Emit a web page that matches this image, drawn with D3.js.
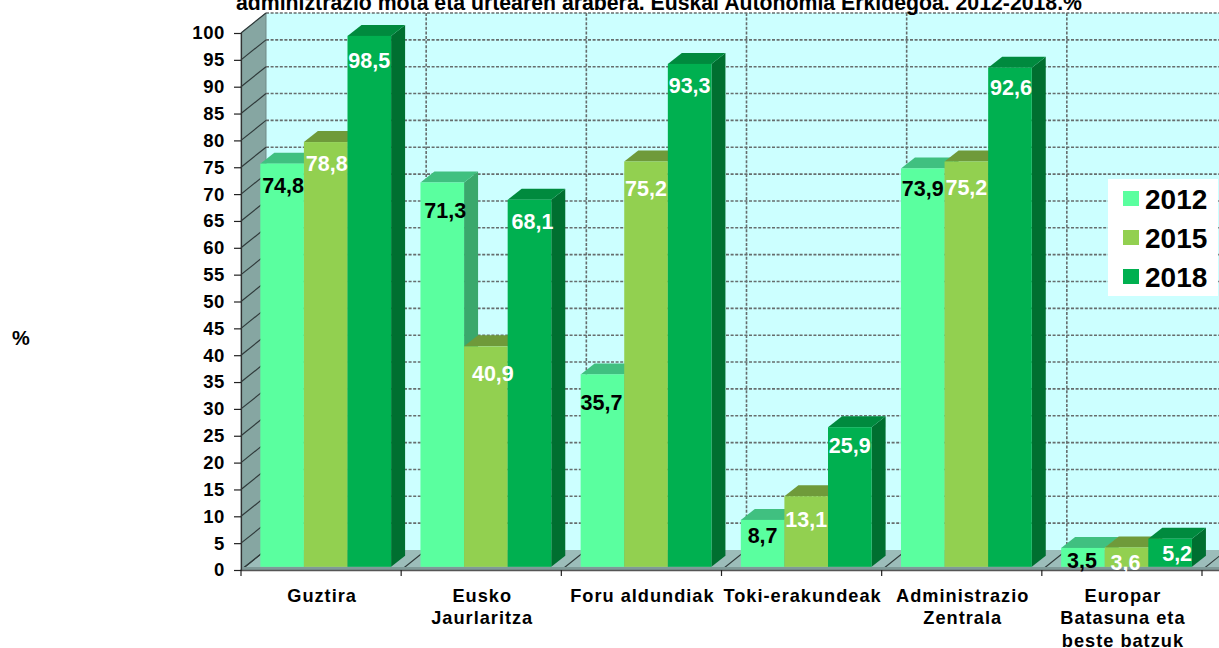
<!DOCTYPE html>
<html>
<head>
<meta charset="utf-8">
<title>Administrazio mota</title>
<script src="https://d3js.org/d3.v7.min.js"></script>
<style>
	html, body { margin: 0; padding: 0; background: #fff; overflow: hidden; }
	text { font-family: "Liberation Sans", Arial, sans-serif; font-weight: bold; }
</style>
</head>
<body>
<script>
	const categories = [
		["Guztira"],
		["Eusko", "Jaurlaritza"],
		["Foru aldundiak"],
		["Toki-erakundeak"],
		["Administrazio", "Zentrala"],
		["Europar", "Batasuna eta", "beste batzuk"]
	]
	const years = ["2012", "2015", "2018"]
	const values2012 = [74.8, 71.3, 35.7, 8.7, 73.9, 3.5]
	const values2015 = [78.8, 40.9, 75.2, 13.1, 75.2, 3.6]
	const values2018 = [98.5, 68.1, 93.3, 25.9, 92.6, 5.2]
	const yTicks = d3.range(0, 101, 5)

	const titleText = "adminiztrazio mota eta urtearen arabera. Euskal Autonomia Erkidegoa. 2012-2018.%"

	const width = 1219, height = 648

	// colours by year: front, top, side
	const colors = [
		{front: "#5aff9f", top: "#40c080", side: "#3aa86c"},
		{front: "#92d050", top: "#6f9a3a", side: "#6f9a3a"},
		{front: "#00b050", top: "#008a3e", side: "#006f30"}
	]

	// hand placed data labels in the original: [dx, baseline below bar top]
	const labelPlace = [
		[[1, 29], [3, 36], [-1, 36], [0, 23], [0, 28], [-1, 20]],
		[[1, 29], [7, 35], [0, 35], [0, 31], [0, 34], [-1, 23]],
		[[0, 32], [3, 29], [0, 29], [0, 26], [1, 27], [7, 22]]
	]

	const depthX = 25, depthY = 20   // chart floor depth
	const barDX = 14, barDY = 11     // bar depth

	const svg = d3.select("body").append("svg")
		.attr("width", width)
		.attr("height", height)
		.style("display", "block")

	const x = d3.scaleBand().domain(d3.range(categories.length)).range([241, 1202])
	const xBar = d3.scaleBand().domain(d3.range(years.length)).range([19.3, 150.1])
	const y = d3.scaleLinear().domain([0, 100]).range([570, 33])
	const yBar = d3.scaleLinear().domain([0, 100]).range([566.8, 27.8])

	const y0 = y(0)
	const wallX = x.range()[0] + depthX
	const backBottom = y0 - depthY
	const backTop = y(100) - depthY

	// back wall
	svg.append("rect")
		.attr("x", wallX).attr("y", backTop)
		.attr("width", width - wallX).attr("height", backBottom - backTop)
		.attr("fill", "#ccffff")

	// side wall
	svg.append("path")
		.attr("d", `M${x.range()[0]},${y0}L${wallX},${backBottom}L${wallX},${backTop}L${x.range()[0]},${y(100)}Z`)
		.attr("fill", "#86a6a2")
		.attr("stroke", "#6f8a87")

	// floor
	svg.append("path")
		.attr("d", `M${x.range()[0]},${y0}L${wallX},${backBottom}L${width},${backBottom}L${width},${y0}Z`)
		.attr("fill", "#9cbdba")

	// horizontal grid, dashed on the back, solid across the side wall
	svg.append("g").selectAll("line.back")
		.data(yTicks.filter(d => d > 0))
		.join("line")
		.attr("x1", wallX).attr("x2", width)
		.attr("y1", d => y(d) - depthY).attr("y2", d => y(d) - depthY)
		.attr("stroke", "#666d6d").attr("stroke-width", 1.6)
		.attr("stroke-dasharray", "3,1.6")

	svg.append("g").selectAll("line")
		.data(yTicks)
		.join("line")
		.attr("x1", x.range()[0]).attr("x2", wallX)
		.attr("y1", d => y(d)).attr("y2", d => y(d) - depthY)
		.attr("stroke", "#2f3a3a").attr("stroke-width", 1.2)

	// vertical grid + floor lines at category edges
	const edges = d3.range(categories.length + 1).map(i => x.range()[0] + i * x.step())

	svg.append("g").selectAll("line")
		.data(edges.slice(1))
		.join("line")
		.attr("x1", d => d + depthX).attr("x2", d => d + depthX)
		.attr("y1", backTop).attr("y2", backBottom)
		.attr("stroke", "#666d6d").attr("stroke-width", 1.6)
		.attr("stroke-dasharray", "3,1.6")

	svg.append("g").selectAll("line")
		.data(edges)
		.join("line")
		.attr("x1", d => d).attr("x2", d => d + depthX)
		.attr("y1", y0).attr("y2", backBottom)
		.attr("stroke", "#2f3a3a").attr("stroke-width", 1.1)

	// front edge of the floor
	svg.append("rect")
		.attr("x", x.range()[0]).attr("y", y0 - 3)
		.attr("width", width - x.range()[0]).attr("height", 3)
		.attr("fill", "#7f9a98")
	svg.append("line")
		.attr("x1", x.range()[0]).attr("x2", width)
		.attr("y1", y0 + 0.5).attr("y2", y0 + 0.5)
		.attr("stroke", "#555").attr("stroke-width", 1.4)

	// bars
	const series = [values2012, values2015, values2018]
	const bars = svg.append("g")
	const labels = svg.append("g")

	categories.forEach((c, i) => {
		series.forEach((vals, s) => {
			const left = x(i) + xBar(s)
			const w = xBar.bandwidth()
			const top = yBar(vals[i])
			const base = yBar(0)
			const col = colors[s]
			bars.append("path")
				.attr("d", `M${left + w},${top}L${left + w + barDX},${top - barDY}L${left + w + barDX},${base - barDY}L${left + w},${base}Z`)
				.attr("fill", col.side)
			bars.append("path")
				.attr("d", `M${left},${top}L${left + barDX},${top - barDY}L${left + w + barDX},${top - barDY}L${left + w},${top}Z`)
				.attr("fill", col.top)
			bars.append("rect")
				.attr("x", left).attr("y", top)
				.attr("width", w).attr("height", base - top)
				.attr("fill", col.front)

			const place = labelPlace[s][i]
			labels.append("text")
				.attr("x", left + w / 2 + place[0])
				.attr("y", top + place[1])
				.attr("text-anchor", "middle")
				.attr("font-size", 21.5)
				.attr("fill", s == 0 ? "#000" : "#fff")
				.text(String(vals[i]).replace(".", ","))
		})
	})

	// y axis
	const yAxis = svg.append("g")
		.attr("transform", `translate(${x.range()[0]},0)`)
		.call(d3.axisLeft(y).tickValues(yTicks).tickSize(7).tickPadding(9))
	yAxis.select(".domain").attr("stroke", "#333").attr("stroke-width", 1.2)
	yAxis.selectAll(".tick line").attr("stroke", "#222").attr("stroke-width", 1.2)
	yAxis.selectAll(".tick text")
		.attr("font-size", 18.5)
		.attr("fill", "#000")
		.attr("letter-spacing", 0.6)

	// x ticks at category edges and wrapped labels
	svg.append("g").selectAll("line")
		.data(edges)
		.join("line")
		.attr("x1", d => d).attr("x2", d => d)
		.attr("y1", y0).attr("y2", y0 + 6)
		.attr("stroke", "#222").attr("stroke-width", 1.2)

	categories.forEach((lines, i) => {
		lines.forEach((line, k) => {
			svg.append("text")
				.attr("x", x(i) + x.bandwidth() / 2 + 1)
				.attr("y", 601.5 + k * 22.5)
				.attr("text-anchor", "middle")
				.attr("font-size", 18.2)
				.attr("letter-spacing", 1)
				.attr("fill", "#000")
				.text(line)
		})
	})

	// title, cut off by the top of the picture
	svg.append("text")
		.attr("x", 236).attr("y", 9.5)
		.attr("font-size", 21.25)
		.attr("fill", "#000")
		.text(titleText)

	svg.append("text")
		.attr("x", 21).attr("y", 345)
		.attr("text-anchor", "middle")
		.attr("font-size", 20)
		.attr("fill", "#000")
		.text("%")

	// legend
	const legend = svg.append("g")
	legend.append("rect")
		.attr("x", 1108).attr("y", 179)
		.attr("width", 110).attr("height", 117)
		.attr("fill", "#fff")

	const legendY = d3.scalePoint().domain(years).range([198.5, 276.5])
	years.forEach((yr, s) => {
		legend.append("rect")
			.attr("x", 1123).attr("y", legendY(yr) - 7.5)
			.attr("width", 16).attr("height", 15)
			.attr("fill", colors[s].front)
		legend.append("text")
			.attr("x", 1145).attr("y", legendY(yr) + 10)
			.attr("font-size", 28)
			.attr("fill", "#000")
			.text(yr)
	})
</script>
</body>
</html>
